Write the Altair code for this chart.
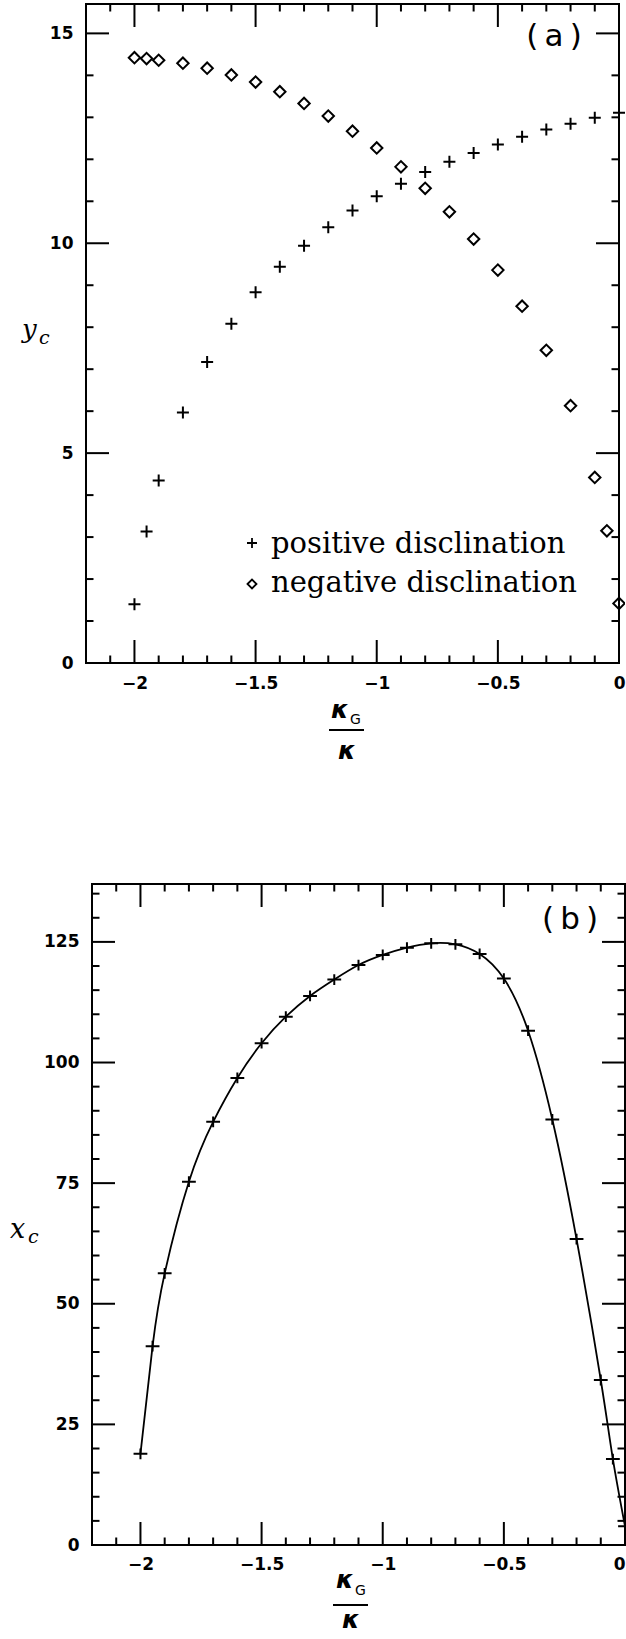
import altair as alt
import pandas as pd

# ---------------- panel (a): core position y_c versus kappa_G / kappa ----------------
kg_pos = [-2.0, -1.95, -1.9, -1.8, -1.7, -1.6, -1.5, -1.4, -1.3, -1.2, -1.1, -1.0,
          -0.9, -0.8, -0.7, -0.6, -0.5, -0.4, -0.3, -0.2, -0.1, 0.0]
yc_pos = [1.40, 3.13, 4.35, 5.97, 7.17, 8.08, 8.83, 9.44, 9.94, 10.38, 10.78, 11.12,
          11.42, 11.70, 11.94, 12.15, 12.35, 12.54, 12.71, 12.85, 12.99, 13.11]

kg_neg = [-2.0, -1.95, -1.9, -1.8, -1.7, -1.6, -1.5, -1.4, -1.3, -1.2, -1.1, -1.0,
          -0.9, -0.8, -0.7, -0.6, -0.5, -0.4, -0.3, -0.2, -0.1, -0.05, 0.0]
yc_neg = [14.42, 14.40, 14.36, 14.29, 14.17, 14.01, 13.84, 13.61, 13.33, 13.03, 12.67, 12.27,
          11.82, 11.31, 10.75, 10.10, 9.36, 8.50, 7.45, 6.13, 4.42, 3.15, 1.42]

# ---------------- panel (b): core position x_c versus kappa_G / kappa ----------------
kg_b = [-2.0, -1.95, -1.9, -1.8, -1.7, -1.6, -1.5, -1.4, -1.3, -1.2, -1.1, -1.0,
        -0.9, -0.8, -0.7, -0.6, -0.5, -0.4, -0.3, -0.2, -0.1, -0.05, 0.0]
xc_b = [18.9, 41.2, 56.3, 75.3, 87.7, 96.8, 104.0, 109.5, 113.8, 117.2, 120.2, 122.3,
        123.8, 124.7, 124.5, 122.5, 117.4, 106.6, 88.2, 63.4, 34.2, 17.8, 3.9]

# ---------------- tick positions ----------------
x_major = [-2.0, -1.5, -1.0, -0.5, 0.0]
x_minor = [-2.2, -2.1, -1.9, -1.8, -1.7, -1.6, -1.4, -1.3, -1.2, -1.1,
           -0.9, -0.8, -0.7, -0.6, -0.4, -0.3, -0.2, -0.1]
ya_major = [0, 5, 10, 15]
ya_minor = [1, 2, 3, 4, 6, 7, 8, 9, 11, 12, 13, 14]
yb_major = [0, 25, 50, 75, 100, 125]
yb_minor = [5, 10, 15, 20, 30, 35, 40, 45, 55, 60, 65, 70, 80, 85, 90, 95,
            105, 110, 115, 120, 130, 135]

X_DOMAIN = [-2.2, 0.0]
YA_DOMAIN = [0, 15.7]
YB_DOMAIN = [0, 137]

VIEW_W = 539
XA0, XA1 = 0, 533      # plot edges of panel (a) inside its view
XB0, XB1 = 6, 539      # plot edges of panel (b) inside its view
HA, HB = 659, 661
GAP = 221
MAJ, MIN = 23, 7.5
TICK_W = 2
SANS = "DejaVu Sans"
SERIF = "DejaVu Serif"

PLUS = "M-1,0H1M0,-1V1"
PLUS_B = "M-1.15,0H1.15M0,-0.9V0.9"


def one_row():
    return alt.Data(values=[{}])


def text(t, x, y, size, font, style="normal", align="left", baseline="alphabetic",
         weight="normal"):
    return alt.Chart(one_row()).mark_text(
        text=t, font=font, fontSize=size, fontStyle=style, align=align,
        baseline=baseline, color="black", fontWeight=weight
    ).encode(x=alt.value(x), y=alt.value(y))


def x_axis(pad, flush_offset):
    return alt.Axis(values=x_major, format="~g", labelFont=SANS, labelFontSize=17,
                    labelFontWeight="bold", labelColor="black", labelPadding=pad,
                    ticks=False, tickSize=0, domain=False, grid=False, title=None,
                    labelFlush=True, labelFlushOffset=flush_offset, labelOverlap=False)


def y_axis(vals, pad):
    return alt.Axis(values=vals, format="d", labelFont=SANS, labelFontSize=17,
                    labelFontWeight="bold", labelColor="black", labelPadding=pad,
                    ticks=False, tickSize=0, domain=False, grid=False, title=None,
                    labelOverlap=False)


def frame_and_ticks(sx, sy, ax, ay, x0, x1, h, ymaj, ymin, ydom):
    layers = [
        alt.Chart(one_row()).mark_rect(fillOpacity=0, stroke="black", strokeWidth=2).encode(
            x=alt.XDatum(X_DOMAIN[0], scale=sx, axis=ax),
            x2=alt.X2Datum(X_DOMAIN[1]),
            y=alt.YDatum(ydom[0], scale=sy, axis=ay),
            y2=alt.Y2Datum(ydom[1]),
        )
    ]
    for vals, ln in ((x_major, MAJ), (x_minor, MIN)):
        base = alt.Chart(pd.DataFrame({"v": vals})).mark_rule(color="black", strokeWidth=TICK_W)
        xe = alt.X("v:Q", scale=sx, axis=ax)
        layers.append(base.encode(x=xe, y=alt.value(h), y2=alt.value(h - ln)))
        layers.append(base.encode(x=xe, y=alt.value(0), y2=alt.value(ln)))
    for vals, ln in ((ymaj, MAJ), (ymin, MIN)):
        base = alt.Chart(pd.DataFrame({"v": vals})).mark_rule(color="black", strokeWidth=TICK_W)
        ye = alt.Y("v:Q", scale=sy, axis=ay)
        layers.append(base.encode(y=ye, x=alt.value(x0), x2=alt.value(x0 + ln)))
        layers.append(base.encode(y=ye, x=alt.value(x1), x2=alt.value(x1 - ln)))
    return layers


# ---------------- panel (a) ----------------
sx_a = alt.Scale(domain=X_DOMAIN, range=[XA0, XA1], nice=False, zero=False)
sy_a = alt.Scale(domain=YA_DOMAIN, nice=False, zero=False)
ax_a = x_axis(12, 6)
ay_a = y_axis(ya_major, 13)

df_pos = pd.DataFrame({"k": kg_pos, "y": yc_pos})
df_neg = pd.DataFrame({"k": kg_neg, "y": yc_neg})

pos_pts = alt.Chart(df_pos).mark_point(
    shape=PLUS, size=144, stroke="black", strokeWidth=2, opacity=1, filled=False, clip=True
).encode(
    x=alt.X("k:Q", scale=sx_a, axis=ax_a),
    y=alt.Y("y:Q", scale=sy_a, axis=ay_a),
)
neg_pts = alt.Chart(df_neg).mark_point(
    shape="diamond", size=130, stroke="black", strokeWidth=2, opacity=1, filled=False, clip=True
).encode(
    x=alt.X("k:Q", scale=sx_a, axis=ax_a),
    y=alt.Y("y:Q", scale=sy_a, axis=ay_a),
)

legend_a = [
    alt.Chart(one_row()).mark_point(shape=PLUS, size=100, stroke="black", strokeWidth=1.8,
                                    opacity=1, filled=False)
    .encode(x=alt.value(166), y=alt.value(539)),
    alt.Chart(one_row()).mark_point(shape="diamond", size=81, stroke="black", strokeWidth=1.8,
                                    opacity=1, filled=False)
    .encode(x=alt.value(166), y=alt.value(580)),
    text("positive disclination", 185, 549, 29, SERIF),
    text("negative disclination", 185, 588, 29, SERIF),
]

labels_a = [
    text("(\u2009a\u2009)", 468, 42, 31, SANS, align="center"),
    text("y", -64, 334, 26, SERIF, style="italic"),
    text("c", -47, 340, 19, SERIF, style="italic"),
    text("κ", 245, 714, 25, SANS, style="italic", weight="bold"),
    text("G", 264, 720, 14, SANS),
    alt.Chart(one_row()).mark_rule(color="black", strokeWidth=2).encode(
        x=alt.value(243), x2=alt.value(278), y=alt.value(726)),
    text("κ", 252, 755, 25, SANS, style="italic", weight="bold"),
    # keeps the top-left corner of the figure in place
    alt.Chart(one_row()).mark_rule(opacity=0).encode(
        x=alt.value(-86), x2=alt.value(-80), y=alt.value(-4)),
]

panel_a = alt.layer(
    *frame_and_ticks(sx_a, sy_a, ax_a, ay_a, XA0, XA1, HA, ya_major, ya_minor, YA_DOMAIN),
    pos_pts, neg_pts, *legend_a, *labels_a
).properties(width=VIEW_W, height=HA)

# ---------------- panel (b) ----------------
sx_b = alt.Scale(domain=X_DOMAIN, range=[XB0, XB1], nice=False, zero=False)
sy_b = alt.Scale(domain=YB_DOMAIN, nice=False, zero=False)
ax_b = x_axis(11, 0)
ay_b = y_axis(yb_major, 13 - XB0)

df_b = pd.DataFrame({"k": kg_b, "x": xc_b})

curve_b = alt.Chart(df_b).mark_line(
    interpolate="natural", color="black", strokeWidth=1.8, clip=True
).encode(
    x=alt.X("k:Q", scale=sx_b, axis=ax_b),
    y=alt.Y("x:Q", scale=sy_b, axis=ay_b),
)
pts_b = alt.Chart(df_b).mark_point(
    shape=PLUS_B, size=144, stroke="black", strokeWidth=2, opacity=1, filled=False, clip=True
).encode(
    x=alt.X("k:Q", scale=sx_b, axis=ax_b),
    y=alt.Y("x:Q", scale=sy_b, axis=ay_b),
)

labels_b = [
    text("(\u2009b\u2009)", 484, 45, 31, SANS, align="center"),
    text("x", -76, 354, 27, SERIF, style="italic"),
    text("c", -58, 359, 19, SERIF, style="italic"),
    text("κ", 250, 704, 25, SANS, style="italic", weight="bold"),
    text("G", 269, 711, 14, SANS),
    alt.Chart(one_row()).mark_rule(color="black", strokeWidth=2).encode(
        x=alt.value(247), x2=alt.value(282), y=alt.value(721)),
    text("κ", 256, 744, 25, SANS, style="italic", weight="bold"),
]

panel_b = alt.layer(
    *frame_and_ticks(sx_b, sy_b, ax_b, ay_b, XB0, XB1, HB, yb_major, yb_minor, YB_DOMAIN),
    curve_b, pts_b, *labels_b
).properties(width=VIEW_W, height=HB)

chart = alt.vconcat(panel_a, panel_b, spacing=GAP, bounds="flush").properties(
    padding=0, background="white"
).configure_view(stroke=None)

chart.save("out.html", embed_options={"renderer": "svg", "actions": False})
